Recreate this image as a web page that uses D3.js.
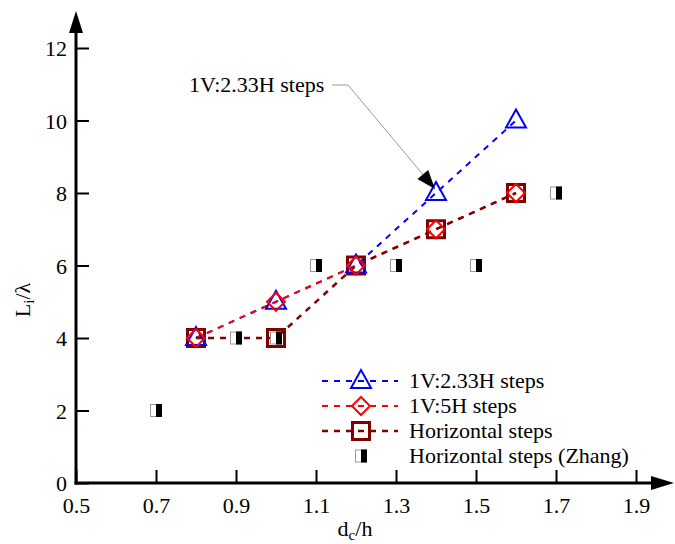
<!DOCTYPE html>
<html><head><meta charset="utf-8">
<script src="https://cdn.jsdelivr.net/npm/d3@7"></script>
<style>body{margin:0;background:#fff}svg{display:block}text{font-family:"Liberation Serif","Times New Roman",serif}</style>
</head><body>
<svg id="c" width="675" height="544"></svg>
<script>
const xTicks = [0.5, 0.7, 0.9, 1.1, 1.3, 1.5, 1.7, 1.9];
const yTicks = [0, 2, 4, 6, 8, 10, 12];
const seriesNames = ["1V:2.33H steps", "1V:5H steps", "Horizontal steps", "Horizontal steps (Zhang)"];
const x233 = [0.8, 1.0, 1.2, 1.4, 1.6];
const y233 = [4, 5, 6, 8, 10];
const x5 = [0.8, 1.0, 1.2, 1.4, 1.6];
const y5 = [4, 5, 6, 7, 8];
const xHor = [0.8, 1.0, 1.2, 1.4, 1.6];
const yHor = [4, 4, 6, 7, 8];
const xZhang = [0.7, 0.9, 1.0, 1.1, 1.3, 1.5, 1.7];
const yZhang = [2, 4, 4, 6, 6, 6, 8];
const annotationText = "1V:2.33H steps";

const svg = d3.select("#c");
const x = d3.scaleLinear().domain([0.5, 1.9]).range([76, 636]);
const y = d3.scaleLinear().domain([0, 12]).range([483, 48]);
const FS = 22;

// axes
const xAxis = d3.axisBottom(x).tickValues(xTicks).tickSize(-13).tickPadding(23).tickFormat(d3.format(".1f"));
const yAxis = d3.axisLeft(y).tickValues(yTicks).tickSize(-13).tickPadding(22).tickFormat(d3.format("d"));
const gx = svg.append("g").attr("transform", "translate(0,483)").call(xAxis);
const gy = svg.append("g").attr("transform", "translate(76,0)").call(yAxis);
[gx, gy].forEach(g => {
  g.select(".domain").remove();
  g.selectAll(".tick line").attr("stroke", "#000").attr("stroke-width", 2);
  g.selectAll(".tick text").attr("font-size", FS).attr("fill", "#000")
    .style("font-family", '"Liberation Serif","Times New Roman",serif');
});
gy.selectAll(".tick text").attr("x", -9).attr("dy", "0.35em");
gx.selectAll(".tick text").attr("dy", "0.71em").attr("y", 14);

// axis lines with arrows
svg.append("line").attr("x1", 76).attr("y1", 484.5).attr("x2", 76).attr("y2", 28).attr("stroke", "#000").attr("stroke-width", 3);
svg.append("line").attr("x1", 74.5).attr("y1", 483).attr("x2", 655).attr("y2", 483).attr("stroke", "#000").attr("stroke-width", 3);
svg.append("path").attr("d", "M76,11 L69,33 L83,33 Z").attr("fill", "#000");
svg.append("path").attr("d", "M674,483 L651,476 L651,490 Z").attr("fill", "#000");

// axis titles
const xl = svg.append("text").attr("x", 355).attr("y", 536).attr("text-anchor", "middle").attr("font-size", FS);
xl.append("tspan").text("d");
xl.append("tspan").attr("font-size", 15).attr("dy", 4).text("c");
xl.append("tspan").attr("dy", -4).text("/h");
const yl = svg.append("text").attr("transform", "translate(30,300) rotate(-90)").attr("text-anchor", "middle").attr("font-size", FS);
yl.append("tspan").text("L");
yl.append("tspan").attr("font-size", 15).attr("dy", 4).text("i");
yl.append("tspan").attr("dy", -4).text("/λ");

// lines
const colors = ["#0000ff", "#ff0000", "#800000"];
const sets = [[x233, y233], [x5, y5], [xHor, yHor]];
const line = d3.line().x(d => x(d[0])).y(d => y(d[1]));
[0, 1, 2].forEach(i => {
  const pts = sets[i][0].map((v, k) => [v, sets[i][1][k]]);
  svg.append("path").attr("d", line(pts)).attr("fill", "none").attr("stroke", colors[i])
    .attr("stroke-width", i === 2 ? 2.5 : 2).attr("stroke-dasharray", "6,6");
});

// markers
function marker(g, type, cx, cy) {
  if (type === 0) {
    g.append("path").attr("d", `M${cx},${cy-11} L${cx+10},${cy+7} L${cx-10},${cy+7} Z`)
      .attr("fill", "none").attr("stroke", colors[0]).attr("stroke-width", 2);
  } else if (type === 1) {
    g.append("path").attr("d", `M${cx},${cy-9} L${cx+9},${cy} L${cx},${cy+9} L${cx-9},${cy} Z`)
      .attr("fill", "none").attr("stroke", colors[1]).attr("stroke-width", 2);
  } else if (type === 2) {
    g.append("rect").attr("x", cx-8.5).attr("y", cy-8.5).attr("width", 17).attr("height", 17)
      .attr("fill", "none").attr("stroke", colors[2]).attr("stroke-width", 3);
  } else {
    g.append("rect").attr("x", cx-5.5).attr("y", cy-6).attr("width", 11).attr("height", 12)
      .attr("fill", "#fff").attr("stroke", "#999").attr("stroke-width", 1);
    g.append("rect").attr("x", cx).attr("y", cy-6.5).attr("width", 6).attr("height", 13).attr("fill", "#000");
  }
}
const mg = svg.append("g");
xHor.forEach((v, k) => marker(mg, 2, x(v), y(yHor[k])));
x233.forEach((v, k) => marker(mg, 0, x(v), y(y233[k])));
x5.forEach((v, k) => marker(mg, 1, x(v), y(y5[k])));
xZhang.forEach((v, k) => marker(mg, 3, x(v), y(yZhang[k])));

// legend
const lg = svg.append("g");
const rows = [381, 406, 431, 456];
seriesNames.forEach((name, i) => {
  const cy = rows[i];
  if (i < 3) {
    lg.append("line").attr("x1", 322).attr("x2", 398).attr("y1", cy).attr("y2", cy)
      .attr("stroke", colors[i]).attr("stroke-width", i === 2 ? 2.5 : 2).attr("stroke-dasharray", "6,6");
  }
  marker(lg, i, 361, cy);
  lg.append("text").attr("x", 409).attr("y", cy + 7).attr("font-size", FS).text(name);
});

// annotation
const tipX = x(1.4) - 1, tipY = y(8) - 4;
svg.append("text").attr("x", 189).attr("y", 92).attr("font-size", FS).text(annotationText);
svg.append("path").attr("d", `M332,85 L348,85 L${tipX},${tipY}`).attr("fill", "none").attr("stroke", "#999").attr("stroke-width", 1);
const ang = Math.atan2(tipY - 85, tipX - 348);
const L = 19, W = 7;
const bx = tipX - L * Math.cos(ang), by = tipY - L * Math.sin(ang);
const px = -Math.sin(ang) * W, py = Math.cos(ang) * W;
svg.append("path").attr("d", `M${tipX},${tipY} L${bx+px},${by+py} L${bx-px},${by-py} Z`).attr("fill", "#000");
</script>
</body></html>
